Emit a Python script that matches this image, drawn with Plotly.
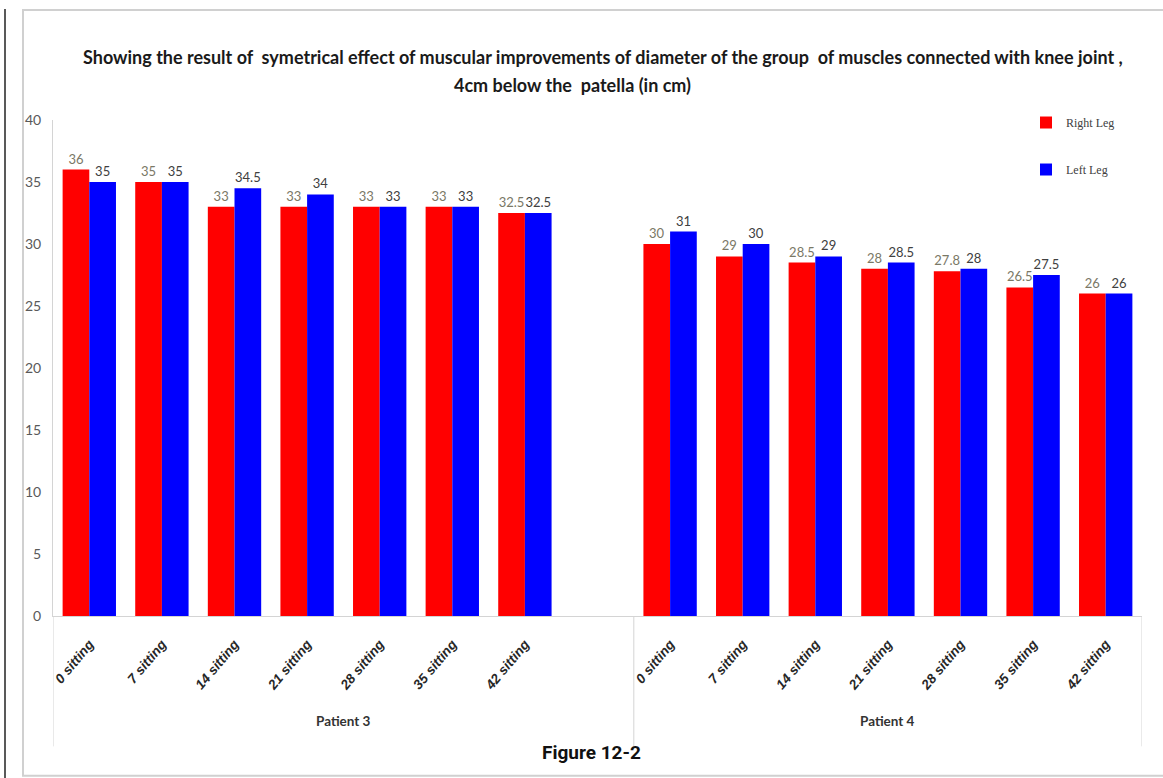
import plotly.graph_objects as go

# Sessions measured for each patient
sessions = ["0 sitting", "7 sitting", "14 sitting", "21 sitting",
            "28 sitting", "35 sitting", "42 sitting"]
patients = ["Patient 3", "Patient 4"]

# Muscle-group diameter 4 cm below the patella (cm)
right_p3 = [36, 35, 33, 33, 33, 33, 32.5]
left_p3 = [35, 35, 34.5, 34, 33, 33, 32.5]
right_p4 = [30, 29, 28.5, 28, 27.8, 26.5, 26]
left_p4 = [31, 30, 29, 28.5, 28, 27.5, 26]

y_ticks = [0, 5, 10, 15, 20, 25, 30, 35, 40]

# Category slots: patient 3 uses slots 0-7 (last one empty), patient 4 slots 8-14
n = len(sessions)
group_start = [0, n + 1]
slots = [g + i for g in group_start for i in range(n)]
tick_text = sessions * 2
right_all = right_p3 + right_p4
left_all = left_p3 + left_p4

BODY = "Lato"

fig = go.Figure()
fig.add_trace(go.Bar(
    name="Right Leg", x=slots, y=right_all,
    marker=dict(color="#ff0000", line=dict(width=0)),
    text=[f"{v:g}" for v in right_all], textposition="outside",
    textfont=dict(family=BODY, size=13, color="#7a7866"),
    cliponaxis=False, legendgroup="r",
))
fig.add_trace(go.Bar(
    name="Left Leg", x=slots, y=left_all,
    marker=dict(color="#0000ff", line=dict(width=0)),
    text=[f"{v:g}" for v in left_all], textposition="outside",
    textfont=dict(family=BODY, size=13, color="#404040"),
    cliponaxis=False, legendgroup="l",
))

W, H = 1163, 778
L, R, T, B = 53, 21, 120, 161.5
plot_h = H - T - B

def py(pix):
    """Convert a pixel row to a paper y coordinate."""
    return (H - B - pix) / plot_h

def px(pix):
    return (pix - L) / (W - L - R)

shapes = []
# Group dividers below the category axis
lo = -0.5
divs = [lo, group_start[1] - 0.5, slots[-1] + 0.5]
for d in divs:
    shapes.append(dict(type="line", xref="x", yref="paper", x0=d, x1=d,
                       y0=0, y1=py(747), line=dict(color="#d4d4d4", width=1)))
# Chart frame
shapes.append(dict(type="rect", xref="paper", yref="paper",
                   x0=px(23), x1=px(1200), y0=py(776.5), y1=py(10),
                   line=dict(color="#d0d0d0", width=2), layer="below"))
shapes.append(dict(type="line", xref="paper", yref="paper",
                   x0=px(5), x1=px(5), y0=py(780), y1=py(9),
                   line=dict(color="#222222", width=1.5)))

annotations = [
    dict(text="Showing the result of  symetrical effect of muscular improvements of diameter of the group  of muscles connected with knee joint ,",
         xref="paper", yref="paper", x=px(603), y=py(44), showarrow=False,
         font=dict(family=BODY, size=18, color="#1a1a1a", weight="bold")),
    dict(text="4cm below the  patella (in cm)",
         xref="paper", yref="paper", x=px(572), y=py(72), showarrow=False,
         font=dict(family=BODY, size=18, color="#1a1a1a", weight="bold")),
    dict(text="Figure 12-2", xref="paper", yref="paper", x=px(591), y=py(767),
         showarrow=False, font=dict(family="Roboto", size=19, color="#111111", weight="bold")),
]
for gi, p in enumerate(patients):
    centre = (divs[gi] + divs[gi + 1]) / 2
    annotations.append(dict(text=p, xref="x", yref="paper", x=centre, y=py(732),
                            showarrow=False,
                            font=dict(family=BODY, size=13.5, color="#333333", weight="bold")))

fig.update_layout(
    width=W, height=H,
    margin=dict(l=L, r=R, t=T, b=B),
    paper_bgcolor="white", plot_bgcolor="white",
    barmode="group", bargap=0.265, bargroupgap=0,
    showlegend=True,
    legend=dict(x=px(1026), y=py(108), xanchor="left", yanchor="top",
                bgcolor="rgba(0,0,0,0)", tracegroupgap=28, itemwidth=30,
                font=dict(family="Liberation Serif", size=12, color="#404040")),
    shapes=shapes, annotations=annotations,
    xaxis=dict(range=[lo, slots[-1] + 0.5], tickmode="array", tickvals=slots,
               ticktext=tick_text, tickangle=-50, showgrid=False, zeroline=False,
               showline=True, linecolor="#d4d4d4", linewidth=1, ticks="",
               ticklabelstandoff=14,
               tickfont=dict(family="Liberation Sans", size=13.5, color="#262626",
                             weight="bold", style="italic")),
    yaxis=dict(range=[0, 40], tickmode="array", tickvals=y_ticks, showgrid=False,
               zeroline=False, showline=True, linecolor="#d4d4d4", linewidth=1,
               ticks="", ticklabelstandoff=8,
               tickfont=dict(family=BODY, size=14, color="#595959")),
)

fig.write_html("out.html")
